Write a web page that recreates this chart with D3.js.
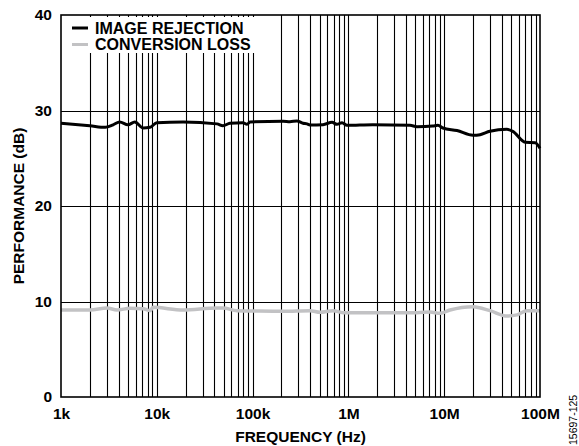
<!DOCTYPE html>
<html>
<head>
<meta charset="utf-8">
<script src="https://cdn.jsdelivr.net/npm/d3@7/dist/d3.min.js"></script>
<style>
  html, body { margin: 0; padding: 0; background: #fff; }
  svg { display: block; }
  text { font-family: "Liberation Sans", Arial, sans-serif; }
</style>
</head>
<body>
<script>
// ---- Data ----
const xTickValues = [1e3, 1e4, 1e5, 1e6, 1e7, 1e8];
const xTickLabels = ["1k", "10k", "100k", "1M", "10M", "100M"];
const yTickValues = [0, 10, 20, 30, 40];
const yTickLabels = ["0", "10", "20", "30", "40"];
const seriesNames = ["IMAGE REJECTION", "CONVERSION LOSS"];

const irFreq = [1000, 2000, 2900, 3500, 4100, 5000, 5900, 7200, 8500, 10000,
  18800, 42500, 49000, 58000, 79000, 87500, 94000,
  208000, 245000, 290000, 336000, 370000, 397000,
  543000, 675000, 760000, 858000, 967000,
  1.8e6, 4.4e6, 5.2e6, 7.6e6, 8.6e6, 9.7e6,
  1.36e7, 2.0e7, 2.37e7, 3.0e7, 4.5e7, 5.2e7, 7.0e7, 8.9e7, 1e8];
const irValues = [28.66, 28.4, 28.24, 28.5, 28.8, 28.5, 28.8, 28.17, 28.24, 28.73,
  28.8, 28.6, 28.4, 28.66, 28.73, 28.55, 28.8,
  28.87, 28.83, 28.9, 28.66, 28.6, 28.48,
  28.52, 28.76, 28.55, 28.73, 28.45,
  28.52, 28.45, 28.3, 28.38, 28.45, 28.17,
  27.9, 27.4, 27.47, 27.82, 28.03, 27.82, 26.67, 26.63, 26.04];

const clFreq = [1000, 2000, 3020, 3845, 5250, 7180, 8490, 9120, 18750, 42460,
  49100, 68700, 111000, 207600, 397200, 506000, 690000, 879000, 2.3e6, 5.2e6,
  7.11e6, 9.04e6, 1.15e7, 2.0e7, 3.01e7, 4.53e7, 5.76e7, 7.31e7, 1e8];
const clValues = [9.11, 9.11, 9.32, 9.11, 9.29, 9.25, 9.04, 9.39, 9.11, 9.32,
  9.32, 9.04, 9.0, 8.97, 9.04, 8.87, 9.04, 8.83, 8.83, 8.83,
  8.9, 8.76, 9.11, 9.46, 9.04, 8.48, 8.6, 9.04, 9.04];

// ---- Layout ----
const W = 579, H = 446;
const L = 61, R = 540, T = 15, B = 397;
const FONT = 16, TICKFONT = 15.5;

const svg = d3.select("body").append("svg").attr("width", W).attr("height", H);

const x = d3.scaleLog().domain([1e3, 1e8]).range([L, R]);
const y = d3.scaleLinear().domain([0, 40]).range([B, T]);

// grid
const vGrid = x.ticks().filter(v => v > 1e3 && v < 1e8);
svg.append("g").selectAll("line").data(vGrid).join("line")
  .attr("x1", d => Math.round(x(d)) + 0.5).attr("x2", d => Math.round(x(d)) + 0.5)
  .attr("y1", T).attr("y2", B)
  .attr("stroke", "#000").attr("stroke-width", 1.1);
svg.append("g").selectAll("line").data(yTickValues.filter(v => v > 0 && v < 40)).join("line")
  .attr("x1", L).attr("x2", R)
  .attr("y1", d => Math.round(y(d)) + 0.5).attr("y2", d => Math.round(y(d)) + 0.5)
  .attr("stroke", "#000").attr("stroke-width", 1.1);

// legend background
svg.append("rect").attr("x", L + 1).attr("y", T + 2).attr("width", 193).attr("height", 36)
  .attr("fill", "#fff");

// series
const line = d3.line().x(d => x(d[0])).y(d => y(d[1])).curve(d3.curveMonotoneX);
svg.append("path").datum(d3.zip(clFreq, clValues)).attr("d", line)
  .attr("fill", "none").attr("stroke", "#c2c2c4").attr("stroke-width", 3.5);
svg.append("path").datum(d3.zip(irFreq, irValues)).attr("d", line)
  .attr("fill", "none").attr("stroke", "#000").attr("stroke-width", 3);

// frame
svg.append("rect").attr("x", L).attr("y", T).attr("width", R - L).attr("height", B - T)
  .attr("fill", "none").attr("stroke", "#000").attr("stroke-width", 1.6);

// axes
const xAxis = d3.axisBottom(x).tickValues(xTickValues)
  .tickFormat((d, i) => xTickLabels[i]).tickSize(0).tickPadding(11);
const gx = svg.append("g").attr("transform", `translate(0,${B})`).call(xAxis);
gx.select(".domain").remove();
gx.selectAll("text").attr("font-size", TICKFONT).attr("font-weight", "bold")
  .attr("fill", "#000").attr("font-family", '"Liberation Sans", Arial, sans-serif');

const yAxis = d3.axisLeft(y).tickValues(yTickValues)
  .tickFormat((d, i) => yTickLabels[i]).tickSize(0).tickPadding(9);
const gy = svg.append("g").attr("transform", `translate(${L},0)`).call(yAxis);
gy.select(".domain").remove();
gy.selectAll("text").attr("font-size", TICKFONT).attr("font-weight", "bold")
  .attr("fill", "#000").attr("font-family", '"Liberation Sans", Arial, sans-serif');

// axis titles
svg.append("text").attr("x", (L + R) / 2).attr("y", 442)
  .attr("text-anchor", "middle").attr("font-size", FONT - 0.5).attr("font-weight", "bold")
  .text("FREQUENCY (Hz)");
svg.append("text").attr("transform", `translate(24,${(T + B) / 2}) rotate(-90)`)
  .attr("text-anchor", "middle").attr("font-size", FONT - 0.5).attr("font-weight", "bold")
  .text("PERFORMANCE (dB)");

// legend
const legColors = ["#000", "#c2c2c4"];
seriesNames.forEach((name, i) => {
  const ly = 28 + i * 16.5;
  svg.append("line").attr("x1", 72).attr("x2", 88).attr("y1", ly).attr("y2", ly)
    .attr("stroke", legColors[i]).attr("stroke-width", 3);
  svg.append("text").attr("x", 95).attr("y", ly + 5.5)
    .attr("font-size", FONT).attr("font-weight", "bold").text(name);
});

// figure id
svg.append("text").attr("transform", "translate(577,445) rotate(-90)")
  .attr("text-anchor", "start").attr("font-size", 10.5).attr("fill", "#000")
  .text("15697-125");
</script>
</body>
</html>
